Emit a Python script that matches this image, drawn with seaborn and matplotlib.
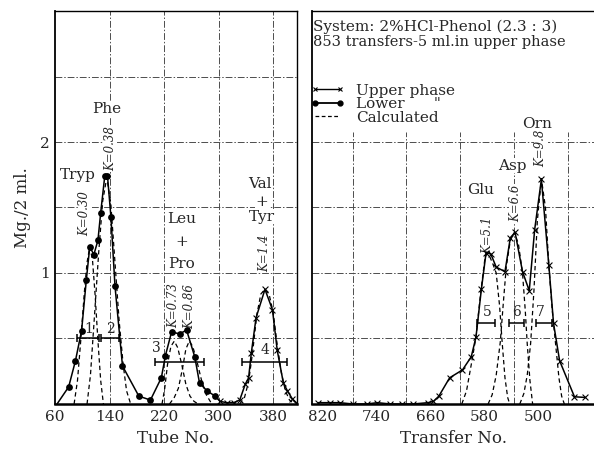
import matplotlib
matplotlib.use('Agg')
import matplotlib.pyplot as plt
from matplotlib.lines import Line2D
import seaborn as sns

sns.set_style('white')
plt.rcParams['font.family'] = ['DejaVu Serif']

# ---- left panel: tube no. ----
lower_tube = [63, 80, 90, 99, 106, 111, 117, 123, 127, 133, 137, 142, 148, 159,
              183, 200, 216, 222, 231, 243, 253, 265, 272, 283, 295]
lower_mg = [0.0, 0.13, 0.33, 0.56, 0.95, 1.20, 1.14, 1.25, 1.46, 1.74, 1.74, 1.43,
            0.90, 0.29, 0.06, 0.03, 0.20, 0.37, 0.55, 0.535, 0.565, 0.36, 0.16, 0.10, 0.06]
upper_tube = [302, 312, 322, 331, 339, 344, 348, 355, 368, 379, 386, 395, 401, 408, 414]
upper_tube_mg = [0.02, 0.01, 0.01, 0.03, 0.15, 0.20, 0.39, 0.66, 0.875, 0.72, 0.41,
                 0.16, 0.10, 0.04, 0.01]

# calculated curves (left)
tryp_x = [88, 93, 98, 103, 107, 111, 115, 119, 123, 127, 131]
tryp_y = [0, 0.18, 0.5, 0.85, 1.08, 1.2, 1.1, 0.82, 0.48, 0.18, 0]
phe_x = [107, 112, 118, 124, 130, 136, 142, 148, 154, 160, 165, 171]
phe_y = [0, 0.22, 0.68, 1.15, 1.55, 1.73, 1.52, 1.08, 0.64, 0.3, 0.1, 0]
leu_x = [217, 221, 225, 230, 235, 240, 246, 252, 258, 264, 270]
leu_y = [0, 0.12, 0.3, 0.44, 0.48, 0.43, 0.3, 0.15, 0.06, 0.02, 0]
pro_x = [228, 235, 241, 247, 252, 257, 262, 268, 275, 282, 290]
pro_y = [0, 0.05, 0.12, 0.27, 0.42, 0.48, 0.44, 0.33, 0.18, 0.07, 0]
valtyr_x = [331, 338, 344, 350, 356, 362, 368, 374, 380, 386, 392, 398, 404, 411]
valtyr_y = [0, 0.05, 0.17, 0.4, 0.68, 0.84, 0.875, 0.84, 0.7, 0.45, 0.24, 0.1, 0.03, 0]

# ---- right panel: transfer no. ----
upper_transfer = [827, 810, 795, 776, 755, 739, 720, 702, 686, 664, 656, 648, 632,
                  613, 600, 593, 585, 578, 571, 563, 550, 542, 535, 524, 514, 506,
                  496, 485, 478, 469, 447, 431]
upper_transfer_mg = [0.01, 0.01, 0.01, 0.0, 0.0, 0.01, 0.0, 0.0, 0.0, 0.01, 0.02, 0.06,
                     0.20, 0.26, 0.36, 0.51, 0.875, 1.155, 1.145, 1.045, 1.01, 1.27,
                     1.31, 1.01, 0.865, 1.33, 1.715, 1.06, 0.615, 0.33, 0.055, 0.05]

glu_t = [614, 607, 600, 593, 586, 580, 577, 573, 568, 563, 558, 554, 550, 546, 543]
glu_y = [0, 0.1, 0.3, 0.51, 0.85, 1.1, 1.15, 1.13, 1.07, 1.0, 0.75, 0.46, 0.2, 0.05, 0]
asp_t = [575, 569, 563, 557, 552, 548, 542, 536, 530, 524, 520, 517, 513, 509]
asp_y = [0, 0.07, 0.22, 0.47, 0.8, 1.05, 1.25, 1.31, 1.22, 1.0, 0.72, 0.46, 0.18, 0]
orn_t = [528, 522, 517, 512, 507, 502, 496, 490, 485, 480, 475, 470, 466, 462]
orn_y = [0, 0.08, 0.22, 0.46, 0.87, 1.4, 1.72, 1.5, 1.06, 0.72, 0.46, 0.2, 0.06, 0]

# band widths with numbers
bands_left = {'lo': [93, 128, 207, 334], 'hi': [125, 154, 279, 401],
              'y': [0.5, 0.5, 0.32, 0.32]}
band_left_labels = [('1', 109, 0.57), ('2', 141, 0.57), ('3', 209, 0.43), ('4', 368, 0.41)]
bands_right = {'lo': [592, 544, 504], 'hi': [565, 522, 480], 'y': [0.615, 0.615, 0.615]}
band_right_labels = [('5', 576, 0.70), ('6', 533, 0.70), ('7', 497, 0.70)]

names_left = [('Tryp', 94, 1.75), ('Phe', 136, 2.25), ('Leu', 246, 1.41), ('+', 246, 1.24),
              ('Pro', 246, 1.07), ('Val', 360, 1.68), ('+', 364, 1.54), ('Tyr', 364, 1.43)]
k_left = [('K=0.30', 104, 1.45), ('K=0.38', 141, 1.95), ('K=0.73', 234, 0.755),
          ('K=0.86', 258, 0.74), ('K=1.4', 368, 1.15)]
names_right = [('Glu', 586, 1.63), ('Asp', 539, 1.82), ('Orn', 502, 2.14)]
k_right = [('K=5.1', 576, 1.29), ('K=6.6', 534, 1.53), ('K=9.8', 497, 1.95)]

left_ticks = [60, 140, 220, 300, 380]
right_ticks = [820, 740, 660, 580, 500]
left_vgrid = [140, 220, 300, 380]
right_vgrid = [776, 696, 616, 536, 456]

fig = plt.figure(figsize=(5.94, 4.53), dpi=100)
ax1 = fig.add_axes([0.0926, 0.1082, 0.4074, 0.8675])
ax2 = fig.add_axes([0.5253, 0.1082, 0.4770, 0.8675])

grid_ls = (0, (7, 2, 1.5, 2))
solid_kw = dict(color='black', lw=1.1, zorder=4)
dash_kw = dict(color='black', lw=0.9, linestyle=(0, (3.5, 2.5)), zorder=3)

# left panel
for y in [0.5, 1, 1.5, 2, 2.5]:
    ax1.axhline(y, color='0.3', lw=0.7, ls=grid_ls, zorder=1)
for x in left_vgrid:
    ax1.axvline(x, color='0.3', lw=0.7, ls=grid_ls, zorder=1)

sns.lineplot(x=lower_tube + upper_tube, y=lower_mg + upper_tube_mg, ax=ax1, sort=False, **solid_kw)
sns.scatterplot(x=lower_tube[1:], y=lower_mg[1:], ax=ax1, color='black', s=24,
                marker='o', edgecolor='black', linewidth=0, zorder=5)
sns.scatterplot(x=upper_tube, y=upper_tube_mg, ax=ax1, color='black', s=18,
                marker='x', linewidth=0.8, zorder=5)
for cx, cy in [(tryp_x, tryp_y), (phe_x, phe_y), (leu_x, leu_y), (pro_x, pro_y),
               (valtyr_x, valtyr_y)]:
    sns.lineplot(x=cx, y=cy, ax=ax1, sort=False, **dash_kw)

# right panel
for y in [0.5, 1, 1.5, 2]:
    ax2.axhline(y, color='0.3', lw=0.7, ls=grid_ls, zorder=1)
for x in right_vgrid:
    ax2.axvline(x, ymax=2.08 / 3, color='0.3', lw=0.7, ls=grid_ls, zorder=1)

sns.lineplot(x=upper_transfer, y=upper_transfer_mg, ax=ax2, sort=False, **solid_kw)
sns.scatterplot(x=upper_transfer, y=upper_transfer_mg, ax=ax2, color='black', s=18,
                marker='x', linewidth=0.8, zorder=5)
for cx, cy in [(glu_t, glu_y), (asp_t, asp_y), (orn_t, orn_y)]:
    sns.lineplot(x=cx, y=cy, ax=ax2, sort=False, **dash_kw)

# band bars
for ax, bands, labels in [(ax1, bands_left, band_left_labels), (ax2, bands_right, band_right_labels)]:
    for lo, hi, y in zip(bands['lo'], bands['hi'], bands['y']):
        ax.errorbar((lo + hi) / 2, y, xerr=abs(hi - lo) / 2, fmt='none', ecolor='black',
                    elinewidth=1.1, capsize=3, capthick=1.1, zorder=4)
    for t, x, y in labels:
        ax.text(x, y, t, ha='center', va='center', fontsize=10, zorder=6)

txt_bg = dict(facecolor='white', edgecolor='none', pad=0.5)
for ax, names, ks in [(ax1, names_left, k_left), (ax2, names_right, k_right)]:
    for t, x, y in names:
        ax.text(x, y, t, ha='center', va='center', fontsize=11, zorder=2, bbox=txt_bg)
    for t, x, y in ks:
        ax.text(x, y, t, ha='center', va='center', fontsize=8.5, style='italic',
                rotation=90, zorder=2, bbox=txt_bg)

ax1.set_xlim(60, 415)
ax2.set_xlim(836, 416)
for ax in (ax1, ax2):
    ax.set_ylim(0, 3)
    ax.set_yticks([1, 2])
    ax.tick_params(length=0, pad=4, labelsize=11)
    for side in ['left', 'right', 'top', 'bottom']:
        ax.spines[side].set_color('black')
        ax.spines[side].set_linewidth(1.0)
    ax.spines['bottom'].set_linewidth(1.8)
    ax.spines['left'].set_linewidth(1.3)
    ax.set_ylabel('')
ax1.set_xticks(left_ticks)
ax2.set_xticks(right_ticks)
ax2.set_yticklabels([])
ax2.spines['right'].set_visible(False)
ax1.set_yticklabels(['1', '2'], fontsize=11)

ax1.set_xlabel('Tube No.', fontsize=12, labelpad=5)
ax2.set_xlabel('Transfer No.', fontsize=12, labelpad=5)
ax1.set_ylabel('Mg./2 ml.', fontsize=12, labelpad=6)

ax2.text(0.004, 0.959, 'System: 2%HCl-Phenol (2.3 : 3)', transform=ax2.transAxes,
         ha='left', va='center', fontsize=11)
ax2.text(0.004, 0.921, '853 transfers-5 ml.in upper phase', transform=ax2.transAxes,
         ha='left', va='center', fontsize=10.5)

handles = [Line2D([], [], color='black', lw=1.0, marker='x', ms=3.5, mew=0.8),
           Line2D([], [], color='black', lw=1.3, marker='o', ms=3.5),
           Line2D([], [], color='black', lw=0.9, ls=(0, (3, 2)))]
ax2.legend(handles, ['Upper phase', 'Lower      "', 'Calculated'], loc='upper left',
           bbox_to_anchor=(-0.005, 0.815), frameon=False, numpoints=2, handlelength=2.2,
           handletextpad=0.8, labelspacing=-0.03, fontsize=11, borderaxespad=0, borderpad=0)

fig.savefig('out.png', dpi=100)
